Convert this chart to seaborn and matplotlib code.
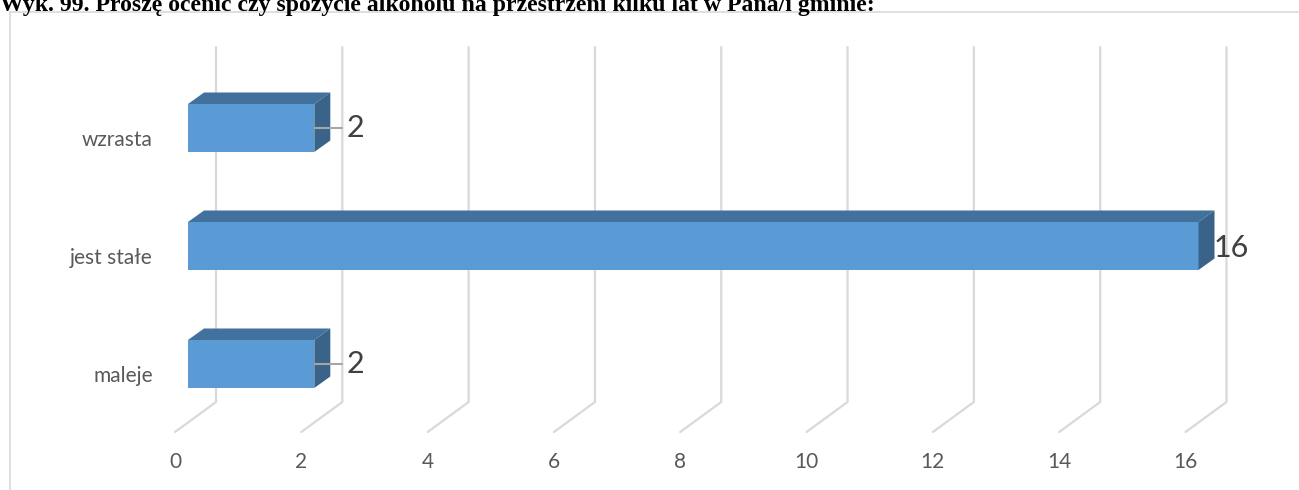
import numpy as np
import pandas as pd
import matplotlib
matplotlib.use("Agg")
import matplotlib.pyplot as plt
from matplotlib.patches import Polygon, Rectangle
from matplotlib.lines import Line2D
from matplotlib.transforms import IdentityTransform
import seaborn as sns

# ---- data ----
title = "Wyk. 99. Proszę ocenić czy spożycie alkoholu na przestrzeni kilku lat w Pana/i gminie:"
categories = ["wzrasta", "jest stałe", "maleje"]
values = [2, 16, 2]
x_ticks = [0, 2, 4, 6, 8, 10, 12, 14, 16]

sns.set_theme(style="white")
plt.rcParams['font.family'] = ['Lato', 'DejaVu Sans']

W, H = 1299, 490
fig = plt.figure(figsize=(W / 100, H / 100), dpi=100)

def fx(px):
    return px / W

def fy(py):
    return 1 - py / H

# axes covering the "front plane" of the bars
ax_left, ax_right, ax_top, ax_bot = 188, 1198.5, 47, 432
ax = fig.add_axes([fx(ax_left), fy(ax_bot), fx(ax_right - ax_left), (ax_bot - ax_top) / H])

df = pd.DataFrame({"cat": categories, "val": values})
bar_h = 48 / 118.0
sns.barplot(data=df, y="cat", x="val", orient="h", order=categories,
            color="#5B9BD5", saturation=1, width=bar_h, ax=ax, zorder=3,
            edgecolor="none")

ax.set_xlim(0, 16)
ax.set_ylim(2 + (432 - 364) / 118.0, -(128 - 47) / 118.0)
ax.axis("off")
fig.canvas.draw()

T = ax.transData
def disp(x, y, dx=0, dy=0):
    p = T.transform((x, y))
    return (p[0] + dx, p[1] + dy)

# gridlines (back wall + floor diagonal)
top_disp = fig.transFigure.transform((0, fy(47)))[1]
floor_back = fig.transFigure.transform((0, fy(402)))[1]
floor_front = fig.transFigure.transform((0, fy(432)))[1]
back_dx = 28
front_dx = -13
for v in x_ticks:
    x0 = T.transform((v, 0))[0]
    xs = [x0 + back_dx, x0 + back_dx, x0 + front_dx]
    ys = [top_disp, floor_back, floor_front]
    ln = Line2D(xs, ys, transform=IdentityTransform(), color="#D9D9D9",
                lw=1.6, zorder=1, clip_on=False)
    ax.add_line(ln)
    lab_y = fy(462)
    fig.text((x0 + front_dx) / W, lab_y, str(v), ha="center", va="center",
             fontsize=15, color="#595959")

# 3D faces of bars
ddx, ddy = 16, 11.5
for i, (c, v) in enumerate(zip(categories, values)):
    ytop = i - bar_h / 2
    ybot = i + bar_h / 2
    a = disp(0, ytop); b = disp(v, ytop)
    top = Polygon([a, b, (b[0] + ddx, b[1] + ddy), (a[0] + ddx, a[1] + ddy)],
                  closed=True, transform=IdentityTransform(), facecolor="#41719C",
                  edgecolor="none", zorder=4, clip_on=False)
    ax.add_patch(top)
    c1 = disp(v, ytop); c2 = disp(v, ybot)
    side = Polygon([c1, c2, (c2[0] + ddx, c2[1] + ddy), (c1[0] + ddx, c1[1] + ddy)],
                   closed=True, transform=IdentityTransform(), facecolor="#3A6389",
                   edgecolor="none", zorder=4, clip_on=False)
    ax.add_patch(side)
    # data label
    mid = disp(v, i)
    if v == max(values):
        fig.text((mid[0] + 15) / W, (mid[1] - 2) / H, str(v), ha="left", va="center",
                 fontsize=22, color="#404040")
    else:
        ax.add_line(Line2D([mid[0] + 1, mid[0] + 28], [mid[1], mid[1]],
                           transform=IdentityTransform(), color="#A6A6A6",
                           lw=1.5, zorder=5, clip_on=False))
        fig.text((mid[0] + 32) / W, mid[1] / H, str(v), ha="left", va="center",
                 fontsize=22, color="#404040")
    # category label (sits on the floor, slightly lower)
    fig.text(fx(153), mid[1] / H - 12 / H, c, ha="right", va="center",
             fontsize=15, color="#595959")

# chart border
fig.patches.append(Rectangle((fx(10), fy(H + 20)), fx(W + 20), (H + 20 - 12) / H,
                             transform=fig.transFigure, fill=False,
                             edgecolor="#D9D9D9", lw=1.2, zorder=0))

# title (clipped at the top as in the original)
fig.text(0, fy(11), title, ha="left", va="baseline", fontsize=17.1,
         fontweight="bold", family=["Liberation Serif", "DejaVu Serif"], color="black")

fig.savefig("out.png", dpi=100)
